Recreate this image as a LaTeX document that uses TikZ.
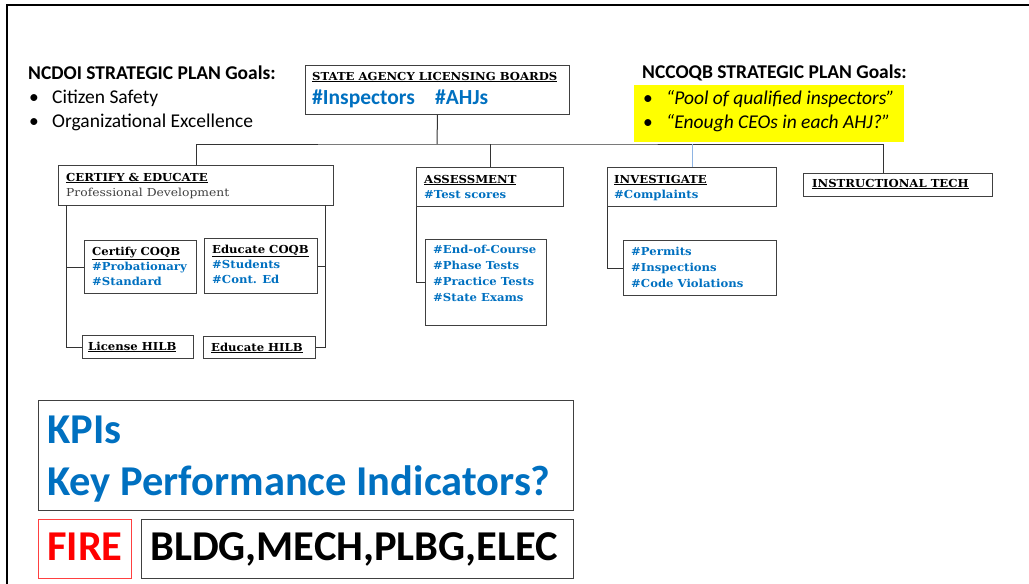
\documentclass[tikz,border=0pt]{standalone}
\usepackage{fontspec}
\setmainfont{Carlito}
\newfontfamily\slabfont[FakeStretch=1.12, BoldFeatures={FakeStretch=1.06}]{DejaVu Serif}
\usetikzlibrary{positioning}
\definecolor{kpiblue}{HTML}{0070C0}
\definecolor{boxline}{HTML}{404040}
\definecolor{subgray}{HTML}{404040}
\definecolor{goalyellow}{HTML}{FFFF00}
\definecolor{linkblue}{HTML}{8EB4E3}
\definecolor{firered}{HTML}{FF0000}

\tikzset{
  orgbox/.style={draw=boxline, line width=1pt, inner sep=0pt, anchor=north west}, % boxes are placed by their top left corner
  link/.style={draw=black!80, line width=1pt},
  txt/.style={inner sep=0pt, anchor=base west, align=left}, % multi-line texts sit on their last baseline
  slabhead/.style={txt, font=\slabfont\bfseries\fontsize{11}{15}\selectfont},
  goal/.style={txt, font=\fontsize{19.5}{24}\selectfont},
  big/.style={txt, font=\bfseries\fontsize{42.5}{52}\selectfont}
}

\begin{document}
\begin{tikzpicture}[x=1pt, y=-1pt]
    \useasboundingbox (0,0) rectangle (1029,584);
    % slide frame
    \draw [line width=2.5pt] (7,584) -- (7,5) -- (1029,5);

    % goals
    \node [goal, font=\bfseries\fontsize{19.5}{24}\selectfont] (ncdoi) at (28,79) {NCDOI STRATEGIC PLAN Goals:};
    \node [goal] (ncdoigoals) at (29,127) {\makebox[23pt][l]{\textbullet}Citizen Safety\\\makebox[23pt][l]{\textbullet}Organizational Excellence};
    \node [orgbox, draw=none, fill=goalyellow, minimum width=270, minimum height=57] (goalbox) at (633,84) {};
    \node [goal, font=\bfseries\fontsize{19.5}{24}\selectfont] (nccoqb) at (642,78) {NCCOQB STRATEGIC PLAN Goals:};
    \node [goal, font=\itshape\fontsize{19.5}{24}\selectfont] (nccoqbgoals) at (643,128) {\makebox[23pt][l]{\upshape\textbullet}“Pool of qualified inspectors”\\\makebox[23pt][l]{\upshape\textbullet}“Enough CEOs in each AHJ?”};

    % boxes
    \node [orgbox, minimum width=264, minimum height=49] (sal) at (305,65) {};
    \node [orgbox, minimum width=275, minimum height=40] (certedu) at (58,165) {};
    \node [orgbox, minimum width=147, minimum height=39] (assess) at (416,167) {};
    \node [orgbox, minimum width=169, minimum height=39] (invest) at (607,167) {};
    \node [orgbox, minimum width=189, minimum height=23] (itech) at (803,173) {};
    \node [orgbox, minimum width=112, minimum height=53] (certcoqb) at (84,240) {};
    \node [orgbox, minimum width=113, minimum height=55] (educoqb) at (204,238) {};
    \node [orgbox, minimum width=111, minimum height=23] (lichilb) at (82,335) {};
    \node [orgbox, minimum width=112, minimum height=22] (eduhilb) at (203,336) {};
    \node [orgbox, minimum width=121, minimum height=86] (assesssub) at (425,239) {};
    \node [orgbox, minimum width=153, minimum height=55] (investsub) at (623,240) {};

    % box texts
    \node [slabhead] (saltxt) at (312,80) {\underline{STATE AGENCY LICENSING BOARDS}};
    \node [txt, font=\bfseries\fontsize{21.5}{24}\selectfont, text=kpiblue] (saltags) at (312,104) {\makebox[123pt][l]{\#Inspectors}\#AHJs};
    \node [slabhead] (certedutxt) at (66,181) {\underline{CERTIFY \& EDUCATE}};
    \node [slabhead, font=\slabfont\fontsize{11}{15}\selectfont, text=subgray] (certedusub) at (66,196) {Professional Development};
    \node [slabhead] (certcoqbtxt) at (92,285) {\underline{Certify COQB}\\\textcolor{kpiblue}{\#Probationary}\\\textcolor{kpiblue}{\#Standard}};
    \node [slabhead] (educoqbtxt) at (212,283) {\underline{Educate COQB}\\\textcolor{kpiblue}{\#Students}\\\textcolor{kpiblue}{\#Cont. Ed}};
    \node [slabhead] (lichilbtxt) at (88,350) {\underline{License HILB}};
    \node [slabhead] (eduhilbtxt) at (211,351) {\underline{Educate HILB}};
    \node [slabhead] (assesstxt) at (424,198) {\underline{ASSESSMENT}\\\textcolor{kpiblue}{\#Test scores}};
    \node [slabhead, font=\slabfont\bfseries\fontsize{11}{15.7}\selectfont, text=kpiblue] (assesslist) at (433,301) {\#End-of-Course\\\#Phase Tests\\\#Practice Tests\\\#State Exams};
    \node [slabhead] (investtxt) at (614,198) {\underline{INVESTIGATE}\\\textcolor{kpiblue}{\#Complaints}};
    \node [slabhead, font=\slabfont\bfseries\fontsize{11}{16}\selectfont, text=kpiblue] (investlist) at (631,287) {\#Permits\\\#Inspections\\\#Code Violations};
    \node [slabhead] (itechtxt) at (812,187) {\underline{INSTRUCTIONAL TECH}};

    % tree lines
    \coordinate (hub) at (437,144);
    \coordinate (itechtop) at (883,173);
    \coordinate (certleft) at (66,205);
    \coordinate (certright) at (325,205);
    \draw [link] (sal.south) -- (hub);
    \draw [link] (certedu.north) |- (hub) -| (itechtop);
    \draw [link] (assess.north) -- (assess.north |- hub);
    \draw [linkblue, line width=0.8pt] (invest.north) -- (invest.north |- hub);
    \draw [link] (certleft) |- (certcoqb.west);
    \draw [link] (certleft) |- (lichilb.west);
    \draw [link] (certright) |- (educoqb.east);
    \draw [link] (certright) |- (eduhilb.east);
    \draw [link] (assess.south west) |- (assesssub.west);
    \draw [link] (invest.south west) |- (investsub.west);

    % KPI boxes
    \node [orgbox, minimum width=535, minimum height=110] (kpi) at (38,400) {};
    \node [big, text=kpiblue] (kpitxt) at (47,495) {KPIs\\Key Performance Indicators?};
    \node [orgbox, draw=firered!75, minimum width=93, minimum height=59] (fire) at (38,519) {};
    \node [big, text=firered] (firetxt) at (47,560) {FIRE};
    \node [orgbox, minimum width=432, minimum height=59] (trades) at (141,519) {};
    \node [big] (tradestxt) at (150,560) {BLDG,MECH,PLBG,ELEC};
\end{tikzpicture}
\end{document}
